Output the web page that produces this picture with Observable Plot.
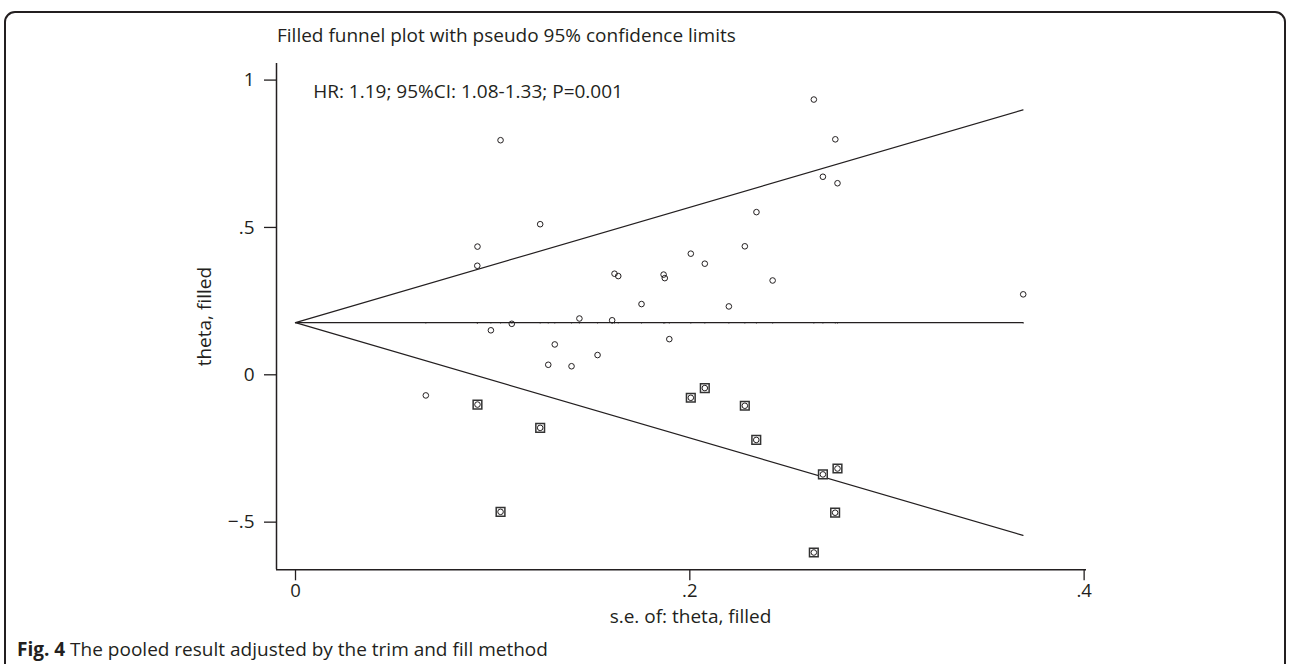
<!DOCTYPE html>
<html>
<head>
<meta charset="utf-8">
<script src="https://cdn.jsdelivr.net/npm/d3@7"></script>
<script src="https://cdn.jsdelivr.net/npm/@observablehq/plot@0.6"></script>
<style>
  html, body { margin: 0; padding: 0; background: #fff; }
  body { width: 1290px; height: 664px; position: relative; overflow: hidden; font-family: "Open Sans", sans-serif; color: #231f20; }
  #frame { position: absolute; left: 4px; top: 11px; width: 1282px; height: 720px; border: 2px solid #231f20; border-radius: 11px; box-sizing: border-box; }
  #title { position: absolute; left: 277px; top: 26px; font-size: 19px; line-height: 19px; white-space: nowrap; }
  #chart { position: absolute; left: 0; top: 50px; }
  #caption { position: absolute; left: 17px; top: 640px; font-size: 19px; line-height: 19px; white-space: nowrap; }
</style>
</head>
<body>
<div id="frame"></div>
<div id="title">Filled funnel plot with pseudo 95% confidence limits</div>
<div id="chart"></div>
<div id="caption"><b>Fig. 4</b> The pooled result adjusted by the trim and fill method</div>
<script>
// Observed studies: standard error and effect (log HR)
const observedSE = [0.104, 0.1241, 0.0923, 0.0922, 0.1618, 0.1637, 0.1755, 0.0991, 0.1097, 0.1440,
  0.1606, 0.1315, 0.1282, 0.1400, 0.1532, 0.0661, 0.2629, 0.2738, 0.2675, 0.2749,
  0.2338, 0.2279, 0.2005, 0.2076, 0.1867, 0.1873, 0.2420, 0.2198, 0.3691, 0.1896];
const observedTheta = [0.796, 0.511, 0.435, 0.370, 0.343, 0.335, 0.240, 0.151, 0.173, 0.191,
  0.185, 0.103, 0.034, 0.029, 0.067, -0.070, 0.934, 0.799, 0.672, 0.650,
  0.552, 0.436, 0.411, 0.377, 0.340, 0.328, 0.320, 0.232, 0.273, 0.121];

// Imputed (filled) studies
const filledSE = [0.0923, 0.1241, 0.1040, 0.2076, 0.2005, 0.2279, 0.2337, 0.2675, 0.2749, 0.2737, 0.2629];
const filledTheta = [-0.101, -0.180, -0.465, -0.045, -0.078, -0.105, -0.221, -0.338, -0.318, -0.468, -0.603];

// Pseudo 95% confidence limits and pooled estimate
const limitSE = [0, 0.369];
const pooledTheta = [0.177, 0.177];
const upperLimit = [0.177, 0.899];
const lowerLimit = [0.177, -0.545];

// Axes
const xDomain = [-0.00964, 0.4012];
const yDomain = [-0.6617, 1.0563];
const xTicks = [0, 0.2, 0.4];
const xTickLabels = ["0", ".2", ".4"];
const yTicks = [-0.5, 0, 0.5, 1];
const yTickLabels = ["\u2212.5", "0", ".5", "1"];

const xLabel = "s.e. of: theta, filled";
const yLabel = "theta, filled";
const annotation = "HR: 1.19; 95%CI: 1.08-1.33; P=0.001";

const observed = observedSE.map((se, i) => ({se, theta: observedTheta[i]}));
const filled = filledSE.map((se, i) => ({se, theta: filledTheta[i]}));
const limits = limitSE.map((se, i) => ({se, pooled: pooledTheta[i], upper: upperLimit[i], lower: lowerLimit[i]}));
const pooled = pooledTheta[0];

const ink = "#231f20";

const chart = Plot.plot({
  width: 1290,
  height: 590,
  marginTop: 13,
  marginBottom: 70.7,
  marginLeft: 276,
  marginRight: 204,
  style: {fontFamily: "Open Sans, sans-serif", fontSize: "19px", color: ink, background: "transparent", overflow: "visible"},
  x: {domain: xDomain},
  y: {domain: yDomain},
  marks: [
    Plot.axisX({ticks: xTicks, tickFormat: (d) => xTickLabels[xTicks.indexOf(d)], tickSize: 11, tickPadding: 3, fontSize: 18.5, label: null, strokeWidth: 1.3}),
    Plot.axisY({ticks: yTicks, tickFormat: (d) => yTickLabels[yTicks.indexOf(d)], tickSize: 12, tickPadding: 10, label: null, strokeWidth: 1.3}),
    Plot.ruleX([xDomain[0]], {stroke: ink, strokeWidth: 1.5}),
    Plot.ruleY([yDomain[0]], {stroke: ink, strokeWidth: 1.5}),
    Plot.line(limits, {x: "se", y: "upper", stroke: ink, strokeWidth: 1.2}),
    Plot.line(limits, {x: "se", y: "lower", stroke: ink, strokeWidth: 1.2}),
    Plot.line(limits, {x: "se", y: "pooled", stroke: ink, strokeWidth: 1.2}),
    Plot.ruleX(observed, {x: "se", y1: pooled - 0.006, y2: pooled, stroke: ink, strokeWidth: 0.8, strokeOpacity: 0.6}),
    Plot.dot(filled, {x: "se", y: "theta", symbol: "square", r: 4.9, stroke: "#333", strokeWidth: 1.5, fill: "white"}),
    Plot.dot(filled, {x: "se", y: "theta", r: 2.8, stroke: ink, strokeWidth: 1, fill: "white"}),
    Plot.dot(observed, {x: "se", y: "theta", r: 2.8, stroke: ink, strokeWidth: 1, fill: "none"}),
    Plot.text([annotation], {text: (d) => d, frameAnchor: "top-left", textAnchor: "start", lineAnchor: "bottom", dx: 36.7, dy: 34.7, fill: ink}),
    Plot.text([xLabel], {text: (d) => d, frameAnchor: "bottom", textAnchor: "middle", lineAnchor: "bottom", dx: 9, dy: 53, fill: ink}),
    Plot.text([yLabel], {text: (d) => d, frameAnchor: "left", textAnchor: "middle", lineAnchor: "bottom", rotate: -90, dx: -65.3, fill: ink})
  ]
});
document.getElementById("chart").appendChild(chart);
</script>
</body>
</html>
